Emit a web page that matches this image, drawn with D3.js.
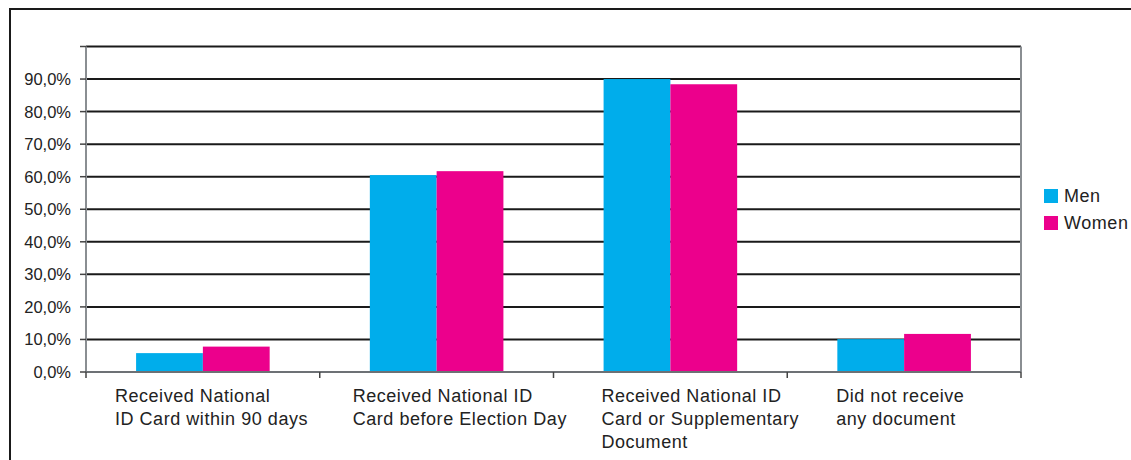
<!DOCTYPE html>
<html>
<head>
<meta charset="utf-8">
<script src="https://cdn.jsdelivr.net/npm/d3@7"></script>
<style>
  body { margin: 0; background: #fff; }
  text { font-family: "Liberation Sans", Arial, sans-serif; fill: #222; }
</style>
</head>
<body>
<div class="chart"></div>
<script>
// categories, one array of lines per label
const categories = [
  ["Received National", "ID Card within 90 days"],
  ["Received National ID", "Card before Election Day"],
  ["Received National ID", "Card or Supplementary", "Document"],
  ["Did not receive", "any document"],
];
const seriesNames = ["Men", "Women"];
const men = [5.8, 60.5, 90.0, 10.1];
const women = [7.8, 61.7, 88.4, 11.7];
const yTicks = [0, 10, 20, 30, 40, 50, 60, 70, 80, 90, 100];

// set the dimensions and margins of the graph
const W = 1131, H = 460;
const margin = { top: 46.5, left: 86 };
const width = 1021 - margin.left,
  height = 372 - margin.top;

const svg = d3.select(".chart").append("svg")
  .attr("width", W).attr("height", H);

// outer frame (runs past the right and bottom edges)
svg.append("rect")
  .attr("x", 10).attr("y", 9)
  .attr("width", W).attr("height", H)
  .attr("fill", "none").attr("stroke", "#1a1a1a").attr("stroke-width", 2);

const g = svg.append("g").attr("transform", `translate(${margin.left},${margin.top})`);

const idx = d3.range(categories.length);
const x = d3.scaleBand().domain(idx).range([0, width]);
const xi = d3.scaleBand().domain(seriesNames).range([0, x.bandwidth()]).paddingOuter(0.75).paddingInner(0);
const y = d3.scaleLinear().domain([0, 100]).range([height, 0]);
const color = d3.scaleOrdinal().domain(seriesNames).range(["#00adeb", "#ec008c"]);
const fmt = (d) => d3.format(".1f")(d).replace(".", ",") + "%";

// gridlines
g.append("g").selectAll("line")
  .data(yTicks.filter((d) => d > 0))
  .join("line")
  .attr("x1", 0).attr("x2", width)
  .attr("y1", (d) => y(d)).attr("y2", (d) => y(d))
  .attr("stroke", "#1a1a1a").attr("stroke-width", 2);

// right border of plot
g.append("line")
  .attr("x1", width).attr("x2", width).attr("y1", 0).attr("y2", height)
  .attr("stroke", "#8a8e92").attr("stroke-width", 2);

// bars
const data = idx.map((i) => ({ i, Men: men[i], Women: women[i] }));
g.append("g").selectAll("g")
  .data(data)
  .join("g")
  .attr("transform", (d) => `translate(${x(d.i)},0)`)
  .selectAll("rect")
  .data((d) => seriesNames.map((k) => ({ key: k, value: d[k] })))
  .join("rect")
  .attr("x", (d) => xi(d.key))
  .attr("width", xi.bandwidth())
  .attr("y", (d) => y(d.value))
  .attr("height", (d) => height - y(d.value))
  .attr("fill", (d) => color(d.key));

// y axis
const yAxis = g.append("g");
yAxis.append("line")
  .attr("x1", 0).attr("x2", 0).attr("y1", 0).attr("y2", height)
  .attr("stroke", "#8a8e92").attr("stroke-width", 2);
yAxis.selectAll(".yt")
  .data(yTicks)
  .join("line")
  .attr("class", "yt")
  .attr("x1", -6).attr("x2", 0)
  .attr("y1", (d) => y(d)).attr("y2", (d) => y(d))
  .attr("stroke", "#444").attr("stroke-width", 1.5);
yAxis.selectAll(".yl")
  .data(yTicks.filter((d) => d < 100))
  .join("text")
  .attr("class", "yl")
  .attr("x", -15)
  .attr("y", (d) => y(d))
  .attr("dy", "0.36em")
  .attr("text-anchor", "end")
  .attr("font-size", 16.5)
  .attr("letter-spacing", 0)
  .text(fmt);

// x axis
const xAxisG = g.append("g").attr("transform", `translate(0,${height})`);
xAxisG.append("line")
  .attr("x1", 0).attr("x2", width).attr("y1", 0).attr("y2", 0)
  .attr("stroke", "#6d7175").attr("stroke-width", 2);
xAxisG.selectAll(".xt")
  .data(d3.range(categories.length + 1))
  .join("line")
  .attr("x1", (d) => d * x.step()).attr("x2", (d) => d * x.step())
  .attr("y1", 0).attr("y2", 6)
  .attr("stroke", "#444").attr("stroke-width", 1.5);

// category labels, left aligned blocks
const labelOffset = [-88, -84, -69, -68];
xAxisG.selectAll(".lbl")
  .data(categories)
  .join("text")
  .attr("class", "lbl")
  .attr("font-size", 18)
  .attr("letter-spacing", 0.55)
  .each(function (lines, i) {
    const cx = x(i) + x.bandwidth() / 2 + labelOffset[i];
    d3.select(this).selectAll("tspan")
      .data(lines)
      .join("tspan")
      .attr("x", cx)
      .attr("y", (d, j) => 30 + j * 23)
      .text((d) => d);
  });

// legend
const legend = svg.selectAll(".legend")
  .data(seriesNames)
  .join("g")
  .attr("class", "legend")
  .attr("transform", (d, i) => `translate(1044,${189 + i * 27})`);
legend.append("rect")
  .attr("width", 14).attr("height", 14)
  .attr("fill", (d) => color(d));
legend.append("text")
  .attr("x", 20).attr("y", 13)
  .attr("font-size", 18)
  .attr("letter-spacing", 0.55)
  .text((d) => d);
</script>
</body>
</html>
